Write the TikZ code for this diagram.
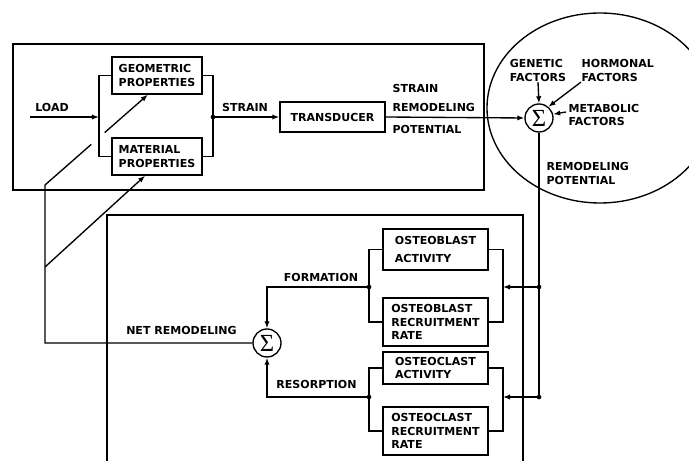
\documentclass[tikz,border=0pt]{standalone}
\usepackage{fontspec}
\setsansfont{DejaVu Sans}
\newfontfamily\sigmafont{Liberation Serif}
\usetikzlibrary{arrows.meta,calc}

\begin{document}
\begin{tikzpicture}[x=0.03cm, y=-0.03cm, font=\sffamily\bfseries\fontsize{9.4}{11.5}\selectfont, line width=1.15pt,
  >={Latex[length=6pt,width=4.5pt]},
  blk/.style={draw, align=left, inner sep=3pt, minimum width=2.7cm, minimum height=1.11cm},
  sumnode/.style={circle, draw, minimum size=0.84cm, inner sep=0pt, font=\sigmafont\fontsize{21}{21}\selectfont},
  lbl/.style={align=left, inner sep=0pt}]
\useasboundingbox (0,0) rectangle (689,461);
% Frames
\draw (13,44) rectangle (484,190);
\draw (107,461) -- (107,215) -- (523,215) -- (523,461);
\draw (600,108) ellipse [x radius=3.39cm, y radius=2.85cm];
% Zone A: load -> properties -> transducer
\node[blk] (geo) at (157,75.5) {GEOMETRIC\\PROPERTIES};
\node[blk] (mat) at (157,156.5) {MATERIAL\\PROPERTIES};
\node[blk, minimum width=3.15cm, minimum height=0.9cm] (trans) at (332.5,117) {TRANSDUCER};
\coordinate (load) at (30,117);
\coordinate (inA) at (99,117);
\coordinate (outA) at (213,117);
\draw (geo.west) -| (inA) |- (mat.west);
\draw (geo.east) -| (outA) |- (mat.east);
\fill (outA) circle[radius=2pt];
\draw[->] (load) -- (inA);
\node[lbl] at (52,107) {LOAD};
\draw[->] (outA) -- (trans.west);
\node[lbl] at (245,107) {STRAIN};
% Zone B: remodeling potential
\node[sumnode] (sumA) at (539,118) {Σ};
\draw[->] (trans.east) -- (sumA.west);
\node[lbl, anchor=west] at (392,88) {STRAIN};
\node[lbl, anchor=west] at (392,107) {REMODELING};
\node[lbl, anchor=west] at (392,129) {POTENTIAL};
\node[lbl] (gen) at (538,70.5) {GENETIC\\FACTORS};
\node[lbl, anchor=west] (hor) at (581,70.5) {HORMONAL\\FACTORS};
\node[lbl, anchor=west] (met) at (568,115) {METABOLIC\\FACTORS};
\coordinate (metin) at (566,112);
\draw[->] (gen.south) -- (sumA.north);
\draw[->] (hor.south west) -- (sumA.50);
\draw[->] (metin) -- (sumA.15);
\node[lbl, anchor=west] at (546,173.5) {REMODELING\\POTENTIAL};
% Zone C: cell activity
\node[blk, minimum width=3.15cm, minimum height=1.23cm] (ob1) at (435.5,249.5) {OSTEOBLAST\\[4pt]ACTIVITY};
\node[blk, minimum width=3.15cm, minimum height=1.44cm] (ob2) at (435.5,322) {OSTEOBLAST\\RECRUITMENT\\RATE};
\node[blk, minimum width=3.15cm, minimum height=0.96cm] (oc1) at (435.5,368) {OSTEOCLAST\\ACTIVITY};
\node[blk, minimum width=3.15cm, minimum height=1.44cm] (oc2) at (435.5,431) {OSTEOCLAST\\RECRUITMENT\\RATE};
\coordinate (jb) at (539,287);
\coordinate (jc) at (539,397);
\coordinate (rb) at (503,287);
\coordinate (rc) at (503,397);
\coordinate (lb) at (369,287);
\coordinate (lc) at (369,397);
\draw (sumA.south) -- (jc);
\fill (jb) circle[radius=2pt] (jc) circle[radius=2pt];
\draw[->] (jb) -- (rb);
\draw[->] (jc) -- (rc);
\draw (ob1.east) -| (rb) |- (ob2.east);
\draw (oc1.east) -| (rc) |- (oc2.east);
\draw (ob1.west) -| (lb) |- (ob2.west);
\draw (oc1.west) -| (lc) |- (oc2.west);
\fill (lb) circle[radius=2pt] (lc) circle[radius=2pt];
% Zone D: net remodeling feedback
\node[sumnode] (sumB) at (267,343) {Σ};
\draw[->] (lb) -| (sumB.north);
\draw[->] (lc) -| (sumB.south);
\node[lbl] at (321,277) {FORMATION};
\node[lbl] at (316.5,384) {RESORPTION};
\node[lbl] at (181.5,330) {NET REMODELING};
\coordinate (fbA) at (45,185);
\coordinate (fbB) at (45,267);
\coordinate (fbC) at (45,343);
\coordinate (geoin) at ($(geo.south west)!0.4!(geo.south east)$);
\coordinate (matin) at ($(mat.south west)!0.37!(mat.south east)$);
\path (fbA) -- (geoin) coordinate[pos=0.45] (gapA) coordinate[pos=0.58] (gapB);
\draw (sumB.west) -- (fbC) -- (fbA) -- (gapA);
\draw[->] (gapB) -- (geoin);
\draw[->] (fbB) -- (matin);
\end{tikzpicture}
\end{document}
